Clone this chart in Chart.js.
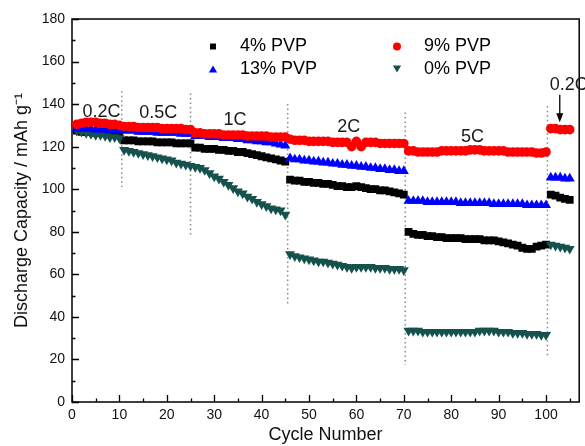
<!DOCTYPE html>
<html>
<head>
<meta charset="utf-8">
<script src="https://cdn.jsdelivr.net/npm/chart.js@4.4.0/dist/chart.umd.min.js"></script>
<style>
  html, body { margin: 0; padding: 0; background: #fff; }
  #wrap { width: 585px; height: 446px; }
</style>
</head>
<body>
<div id="wrap"><canvas id="capacityChart" width="585" height="446"></canvas></div>
<script>
// cycle numbers (x)
const cycles = [
  1, 2, 3, 4, 5, 6, 7, 8, 9, 10,
  11, 12, 13, 14, 15, 16, 17, 18, 19, 20, 21, 22, 23, 24, 25,
  26, 27, 28, 29, 30, 31, 32, 33, 34, 35, 36, 37, 38, 39, 40, 41, 42, 43, 44, 45,
  46, 47, 48, 49, 50, 51, 52, 53, 54, 55, 56, 57, 58, 59, 60, 61, 62, 63, 64, 65, 66, 67, 68, 69, 70,
  71, 72, 73, 74, 75, 76, 77, 78, 79, 80, 81, 82, 83, 84, 85, 86, 87, 88, 89, 90,
  91, 92, 93, 94, 95, 96, 97, 98, 99, 100,
  101, 102, 103, 104, 105
];

// discharge capacity, mAh/g
const pvp4 = [
  127.5, 127, 127, 127, 126.5, 126.5, 126.5, 126, 126, 126,
  123, 123, 123, 122.5, 122.5, 122.5, 122.5, 122, 122, 122, 122, 121.5, 121.5, 121.5, 121.5,
  119.5, 119.5, 119, 119, 119, 118.5, 118.5, 118, 118, 117.5, 117.5, 117, 116.5, 116, 115.5, 115, 114.5, 114, 113.5, 113,
  104.5, 104, 104, 103.5, 103.5, 103, 103, 102.5, 102.5, 102, 101.5, 101.5, 101, 101, 101.5, 101, 100.5, 100, 100, 99.5, 99.5, 99, 98.5, 98, 97.5,
  80, 79, 78.5, 78.5, 78, 78, 77.5, 77.5, 77, 77, 77, 77, 76.5, 76.5, 76.5, 76.5, 76, 76, 76, 75.5,
  75, 74.5, 74, 73.5, 72.5, 72, 72, 73, 73.5, 74,
  97.5, 97, 96, 95.5, 95
];
const pvp9 = [
  130.5, 131, 131.5, 131.5, 131.5, 131, 131, 130.5, 130.5, 130,
  129.5, 129.5, 129.5, 129, 129, 129, 129, 129, 128.5, 128.5, 128.5, 128.5, 128.5, 128, 128,
  126.5, 126.5, 126, 126, 126, 126, 125.5, 125.5, 125.5, 125.5, 125.5, 125, 125, 125, 125, 125, 124.5, 124.5, 124.5, 124.5,
  123.5, 123, 123, 123, 122.5, 122.5, 122.5, 122.5, 122.5, 122, 122, 122, 122, 120, 122.5, 120, 122, 122, 122, 121.5, 121.5, 121.5, 121.5, 121.5, 121.5,
  118, 118, 117.5, 117.5, 117.5, 117.5, 117.5, 118, 118, 118, 118, 118, 118, 118.5, 118.5, 118.5, 118, 118, 118, 118,
  118, 117.5, 117.5, 117.5, 117.5, 117.5, 117.5, 117, 117, 117.5,
  128.5, 128.5, 128, 128, 128
];
const pvp13 = [
  128.5, 128.5, 128.5, 128.5, 128, 128, 128, 128, 127.5, 127.5,
  127.5, 127.5, 127.5, 127, 127, 127, 127, 126.5, 126.5, 126.5, 126.5, 126.5, 126, 126, 126,
  125, 125, 125, 124.5, 124.5, 124.5, 124, 124, 124, 123.5, 123.5, 123, 123, 122.5, 122.5, 122, 122, 121.5, 121, 120.5,
  114.5, 114, 114, 113.5, 113.5, 113, 113, 112.5, 112.5, 112, 112, 111.5, 111.5, 111, 111, 110.5, 110.5, 110, 110, 109.5, 109.5, 109, 109, 108.5, 108.5,
  94.5, 94.5, 94.5, 94.5, 94, 94, 94, 94, 94, 94, 94, 93.5, 93.5, 93.5, 93.5, 93.5, 93.5, 93.5, 93, 93,
  93, 93, 93, 93, 93, 92.5, 92.5, 92.5, 92.5, 92.5,
  105.5, 105.5, 105.5, 105, 105
];
const pvp0 = [
  127.5, 127, 126.5, 126, 125.5, 125.5, 125, 124.5, 124.5, 124,
  118.5, 118, 117.5, 117, 116.5, 116, 115.5, 115, 114.5, 114, 113.5, 112.5, 112, 111.5, 111,
  110.5, 110, 109, 107.5, 106, 105, 103.5, 102, 100.5, 99, 98, 96.5, 95.5, 94, 93, 92, 91, 90.5, 90, 88,
  69.5, 68.5, 68, 67.5, 67, 66.5, 66, 66, 65.5, 65, 64.5, 64, 63.5, 63, 63.5, 63.5, 63.5, 63.5, 63, 63, 63, 62.5, 62.5, 62.5, 62,
  33.5, 33.5, 33.5, 33, 33, 33, 33, 33, 33, 33, 33, 33, 33, 33, 33, 33.5, 33.5, 33.5, 33.5, 33,
  33, 33, 32.5, 32.5, 32.5, 32, 32, 32, 31.5, 31.5,
  74, 73.5, 73, 72.5, 72
];

// axis ticks
const xTicks = [0, 10, 20, 30, 40, 50, 60, 70, 80, 90, 100];
const xMinor = [5, 15, 25, 35, 45, 55, 65, 75, 85, 95, 105];
const yTicks = [0, 20, 40, 60, 80, 100, 120, 140, 160, 180];
const yMinor = [10, 30, 50, 70, 90, 110, 130, 150, 170];

// C-rate annotations (data coords)
const rateNames = ["0.2C", "0.5C", "1C", "2C", "5C", "0.2C"];
const rateX = [6.2, 18.2, 34.4, 58.4, 84.5, 104.8];
const rateY = [136.4, 135.8, 132.5, 129.3, 124.7, 149];

// dotted separators between rate steps
const dividerX = [10.5, 25, 45.5, 70.3, 100.3];
const dividerTop = [146, 145, 140, 136, 139];
const dividerBottom = [101, 78.5, 45.6, 17.4, 20.7];

// arrow to the last 0.2C step
const arrowX = 102.9;
const arrowFrom = 144.4;
const arrowTo = 131.5;

const FONT = "'Liberation Sans', Arial, sans-serif";

function toPoints(ys) {
  return cycles.map((c, i) => ({ x: c, y: ys[i] }));
}

const series = [
  { label: "9% PVP", data: pvp9, color: "#ff0000", style: "circle", radius: 4.8, rotation: 0 },
  { label: "13% PVP", data: pvp13, color: "#0000ff", style: "triangle", radius: 5.8, rotation: 0 },
  { label: "0% PVP", data: pvp0, color: "#15524e", style: "triangle", radius: 5.8, rotation: 180 },
  { label: "4% PVP", data: pvp4, color: "#000000", style: "rect", radius: 5.5, rotation: 0 },
];

const datasets = series.map((s) => ({
  label: s.label,
  data: toPoints(s.data),
  pointStyle: s.style,
  pointRadius: s.radius,
  pointRotation: s.rotation,
  pointBackgroundColor: s.color,
  pointBorderColor: s.color,
  pointBorderWidth: 0,
  showLine: false,
}));

dividerX.forEach((x, i) => {
  datasets.push({
    label: "divider" + i,
    data: [{ x: x, y: dividerTop[i] }, { x: x, y: dividerBottom[i] }],
    showLine: true,
    borderColor: "#8a8a8a",
    borderWidth: 1.5,
    borderDash: [1.5, 3],
    pointRadius: 0,
  });
});

// frame + inward ticks, like the Origin plot
const axisFrame = {
  id: "axisFrame",
  beforeDatasetsDraw(chart) {
    const { ctx, chartArea: a, scales } = chart;
    const x = scales.x, y = scales.y;
    ctx.save();
    ctx.strokeStyle = "#000";
    ctx.lineWidth = 1.5;
    ctx.strokeRect(a.left, a.top, a.right - a.left, a.bottom - a.top);
    ctx.lineWidth = 1.3;
    ctx.beginPath();
    xTicks.forEach((v) => {
      const px = Math.round(x.getPixelForValue(v)) + 0.5;
      ctx.moveTo(px, a.bottom); ctx.lineTo(px, a.bottom - 7);
    });
    xMinor.forEach((v) => {
      const px = Math.round(x.getPixelForValue(v)) + 0.5;
      ctx.moveTo(px, a.bottom); ctx.lineTo(px, a.bottom - 3.5);
    });
    yTicks.forEach((v) => {
      const py = Math.round(y.getPixelForValue(v)) + 0.5;
      ctx.moveTo(a.left, py); ctx.lineTo(a.left + 7, py);
    });
    yMinor.forEach((v) => {
      const py = Math.round(y.getPixelForValue(v)) + 0.5;
      ctx.moveTo(a.left, py); ctx.lineTo(a.left + 3.5, py);
    });
    ctx.stroke();
    ctx.restore();
  },
};

// rate labels, arrow and the 2x2 legend
const annotations = {
  id: "annotations",
  afterDatasetsDraw(chart) {
    const { ctx, chartArea: a, scales } = chart;
    const x = scales.x, y = scales.y;
    ctx.save();
    ctx.fillStyle = "#1a1a1a";
    ctx.font = "18px " + FONT;
    ctx.textAlign = "center";
    ctx.textBaseline = "middle";
    rateNames.forEach((t, i) => {
      ctx.fillText(t, x.getPixelForValue(rateX[i]), y.getPixelForValue(rateY[i]));
    });

    // arrow
    const ax = x.getPixelForValue(arrowX);
    const ay0 = y.getPixelForValue(arrowFrom);
    const ay1 = y.getPixelForValue(arrowTo);
    ctx.strokeStyle = "#000";
    ctx.fillStyle = "#000";
    ctx.lineWidth = 1.3;
    ctx.beginPath();
    ctx.moveTo(ax, ay0);
    ctx.lineTo(ax, ay1 - 4);
    ctx.stroke();
    ctx.beginPath();
    ctx.moveTo(ax, ay1);
    ctx.lineTo(ax - 3.5, ay1 - 9);
    ctx.lineTo(ax + 3.5, ay1 - 9);
    ctx.closePath();
    ctx.fill();

    // legend
    const legendOrder = [3, 0, 1, 2]; // 4%, 9% / 13%, 0%
    const colX = [a.left + 141, a.left + 325];
    const rowY = [a.top + 27.5, a.top + 50];
    ctx.textAlign = "left";
    ctx.font = "18px " + FONT;
    legendOrder.forEach((si, k) => {
      const s = series[si];
      const mx = colX[k % 2];
      const my = rowY[Math.floor(k / 2)];
      const r = s.style === "rect" ? 4.2 : s.style === "circle" ? 4 : 4.8;
      ctx.fillStyle = s.color;
      Chart.helpers.drawPoint(ctx, {
        pointStyle: s.style, radius: r, rotation: s.rotation, borderWidth: 0,
      }, mx, s.style === "triangle" ? my + (s.rotation ? -1.2 : 1.2) : my);
      ctx.fillStyle = "#000";
      ctx.fillText(s.label, mx + 27, my);
    });
    ctx.restore();
  },
};

new Chart(document.getElementById("capacityChart"), {
  type: "scatter",
  data: { datasets: datasets },
  options: {
    responsive: false,
    devicePixelRatio: 1,
    animation: false,
    events: [],
    layout: { padding: { top: 19, right: 1, left: 0, bottom: 0 } },
    plugins: {
      legend: { display: false },
      tooltip: { enabled: false },
    },
    scales: {
      x: {
        type: "linear",
        min: 0,
        max: 107,
        afterBuildTicks: (scale) => { scale.ticks = xTicks.map((v) => ({ value: v })); },
        afterFit: (scale) => { scale.height = 44; },
        grid: { display: false, drawTicks: false },
        border: { display: false },
        ticks: { color: "#111", font: { family: FONT, size: 14 }, padding: 5, maxRotation: 0 },
        title: {
          display: true,
          text: "Cycle Number",
          color: "#111",
          font: { family: FONT, size: 18 },
          padding: { top: 0, bottom: 0 },
        },
      },
      y: {
        min: 0,
        max: 180,
        afterBuildTicks: (scale) => { scale.ticks = yTicks.map((v) => ({ value: v })); },
        afterFit: (scale) => { scale.width = 72; },
        grid: { display: false, drawTicks: false },
        border: { display: false },
        ticks: { color: "#111", font: { family: FONT, size: 14 }, padding: 7 },
        title: {
          display: true,
          text: "Discharge Capacity / mAh g\u207B\u00B9",
          color: "#111",
          font: { family: FONT, size: 18 },
          padding: { top: 11, bottom: 0 },
        },
      },
    },
  },
  plugins: [axisFrame, annotations],
});
</script>
</body>
</html>
